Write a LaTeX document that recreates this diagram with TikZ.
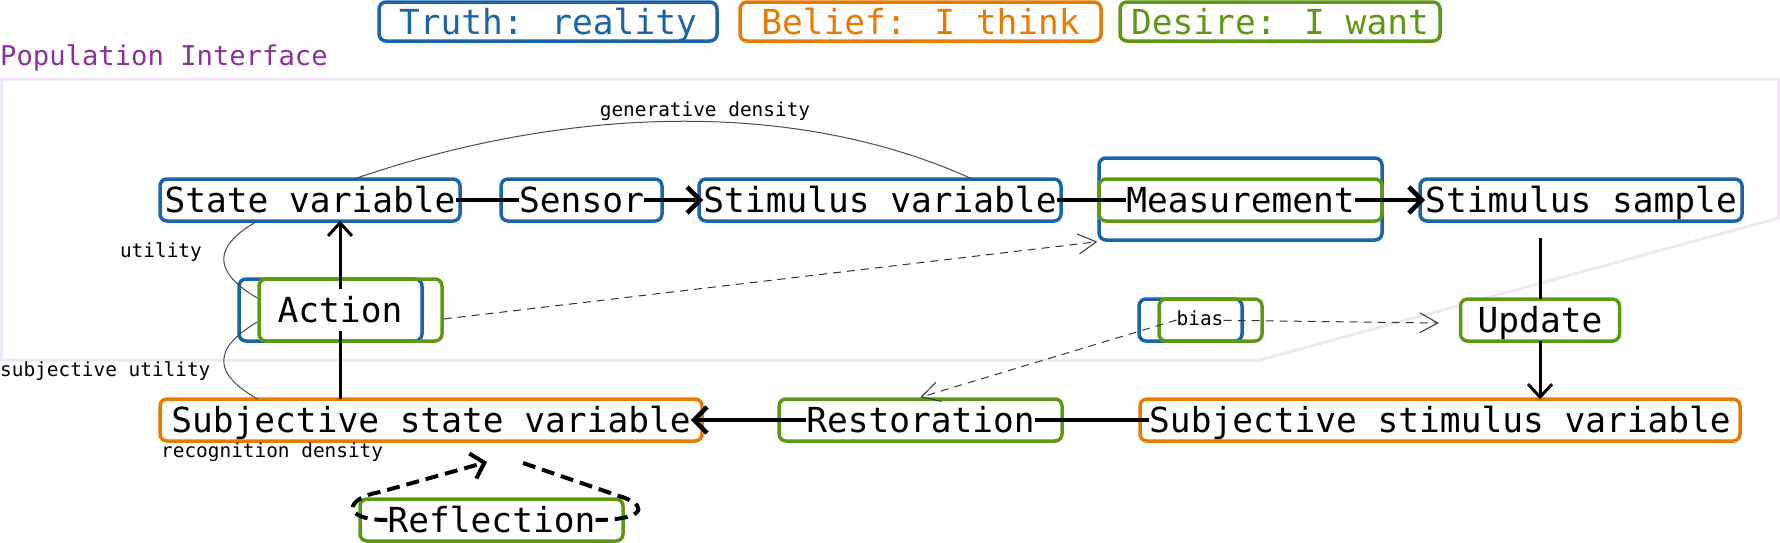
\documentclass[tikz,border=0pt]{standalone}
\usepackage{fontspec}
\usetikzlibrary{arrows.meta,backgrounds,calc}
\newfontfamily\monofont{DejaVu Sans Mono}
\definecolor{truthblue}{RGB}{26,100,170}
\definecolor{beliefor}{RGB}{232,122,0}
\definecolor{desiregr}{RGB}{94,152,18}
\definecolor{popviolet}{RGB}{142,47,160}
\definecolor{poplilac}{RGB}{240,230,244}
\newcommand{\bigtext}{\monofont\fontsize{34.5}{40}\selectfont}
\newcommand{\midtext}{\monofont\fontsize{27.2}{32}\selectfont}
\newcommand{\smalltext}{\monofont\fontsize{19.4}{23}\selectfont}
\tikzset{
	lbl/.style={font=\bigtext, inner sep=0pt, text height=33pt, text depth=8pt},
	note/.style={font=\smalltext, inner sep=0pt},
	box/.style={rounded corners=7pt, line width=3.5pt, minimum height=42pt, inner sep=0pt},
	truthbox/.style={box, draw=truthblue, fill=white},
	beliefbox/.style={box, draw=beliefor, fill=white},
	desirebox/.style={box, draw=desiregr, fill=white},
	overbox/.style={box, fill=none},
	legend/.style={font=\bigtext, minimum height=39pt, text height=31.5pt, text depth=6.5pt},
	flowline/.style={line width=4.5pt},
	flowarrow/.style={flowline, -{Straight Barb[length=13pt,width=26pt]}},
	downline/.style={line width=3pt},
	downarrow/.style={downline, -{Straight Barb[length=13pt,width=24pt]}},
	hint/.style={draw=black!80, line width=1pt, dash pattern=on 8pt off 6pt, -{Straight Barb[length=18pt,width=20pt]}},
	density/.style={draw=black!70, line width=1pt},
	loopline/.style={line width=4pt, dash pattern=on 13pt off 7pt}
}
\begin{document}
\begin{tikzpicture}[x=1pt, y=-1pt]
	\useasboundingbox (0,0) rectangle (1780,542);
%Legend
	\node[truthbox, legend, text=truthblue, minimum width=338pt] (truth) at (548,21.5) {Truth: reality};
	\node[beliefbox, legend, text=beliefor, minimum width=361pt] (belief) at (920.5,21.5) {Belief: I think};
	\node[desirebox, legend, text=desiregr, minimum width=320pt] (desire) at (1280,21.5) {Desire: I want};
%Population interface
	\node[inner sep=0pt, font=\midtext, text=popviolet, anchor=base west] (popname) at (0,65) {Population Interface};
%The elements
	\node[lbl] (state) at (310,200) {State variable};
	\node[lbl] (sensor) at (581.5,200) {Sensor};
	\node[lbl] (stimvar) at (880,200) {Stimulus variable};
	\node[lbl] (measure) at (1240.5,200) {Measurement};
	\node[lbl] (sample) at (1581,200) {Stimulus sample};
	\node[lbl] (action) at (340,310) {Action};
	\node[note, text height=14pt, text depth=4pt] (bias) at (1200,320) {bias};
	\node[lbl] (update) at (1540,320) {Update};
	\node[lbl] (substate) at (431,420) {Subjective state variable};
	\node[lbl] (restore) at (920.5,420) {Restoration};
	\node[lbl] (substim) at (1440,420) {Subjective stimulus variable};
	\node[lbl] (reflect) at (491.5,520) {Reflection};
%Boxes behind the elements
	\begin{scope}[on background layer]
	\draw[poplilac, line width=3pt] (1.5,79) -- (1778.5,79) -- (1778.5,218) -- (1260,360) -- (1.5,360) -- cycle;
	\node[truthbox, minimum width=300pt] (statebox) at (state) {};
	\node[truthbox, minimum width=161pt] (sensorbox) at (sensor) {};
	\node[truthbox, minimum width=362pt] (stimvarbox) at (stimvar) {};
	\node[truthbox, minimum width=283pt, minimum height=82pt] (measureout) at (1240.5,199) {};
	\node[overbox, draw=desiregr, minimum width=283pt] (measurebox) at (measure) {};
	\node[truthbox, minimum width=322pt] (samplebox) at (sample) {};
	\node[truthbox, minimum width=183pt, minimum height=62pt] (actblue) at (330.5,310) {};
	\node[overbox, draw=desiregr, minimum width=183pt, minimum height=62pt] (actgreen) at (350.5,310) {};
	\node[truthbox, minimum width=103pt] (biasblue) at (1190.5,320) {};
	\node[overbox, draw=desiregr, minimum width=103pt] (biasgreen) at (1210.5,320) {};
	\node[desirebox, minimum width=159pt] (updatebox) at (update) {};
	\node[beliefbox, minimum width=542pt] (substatebox) at (substate) {};
	\node[desirebox, minimum width=283pt] (restorebox) at (restore) {};
	\node[beliefbox, minimum width=600pt] (substimbox) at (substim) {};
	\node[desirebox, minimum width=263pt] (reflectbox) at (reflect) {};
	\end{scope}
%Main flow
	\draw[flowline] (state) -- (sensor);
	\draw[flowarrow] (sensor) -- (stimvar);
	\draw[flowline] (stimvar) -- (measure);
	\draw[flowarrow] (measure) -- (sample);
	\coordinate (sampleout) at (1540,238);
	\draw[downline] (sampleout) -- (update);
	\draw[downarrow] (update) -- (update |- substim.north);
	\draw[flowline] (substim) -- (restore);
	\draw[flowarrow] (restore) -- (substate);
	\draw[downline] (substate.north -| action) -- (action);
	\draw[downarrow] (action) -- (action |- state.south);
%Dashed hints
	\draw[hint] ($(actgreen.east)+(0,9)$) -- (measureout.south west);
	\draw[hint] (bias) -- ($(updatebox.west)+(-20,3)$);
	\draw[hint] (bias.west) -- (restorebox.north);
%Reflection loop
	\coordinate (loopin) at (487,462);
	\coordinate (loopout) at (523,463);
	\draw[loopline, -{Straight Barb[length=12pt,width=26pt]}] (reflect.west) .. controls (340,520) and (345,498) .. (380,492) -- (loopin);
	\draw[loopline] (loopout) -- (625,498) .. controls (650,508) and (640,520) .. (reflect.east);
%Densities and utilities
	\draw[density] ([xshift=43pt]state.north) .. controls (560,108) and (790,96) .. ([xshift=93pt]stimvar.north);
	\node[note] (gendens) at (705,111) {generative density};
	\draw[density] ([xshift=-52pt]state.south) .. controls (215,245) and (210,270) .. ($(actgreen.west)+(0,-12)$);
	\node[note, anchor=east] (util) at (202,252) {utility};
	\draw[density] ($(actgreen.west)+(0,12)$) .. controls (210,350) and (215,375) .. ([xshift=-173pt]substate.north);
	\node[note, anchor=west] (subutil) at (0,371) {subjective utility};
	\node[note, anchor=west] (recog) at (161,452) {recognition density};
\end{tikzpicture}
\end{document}
